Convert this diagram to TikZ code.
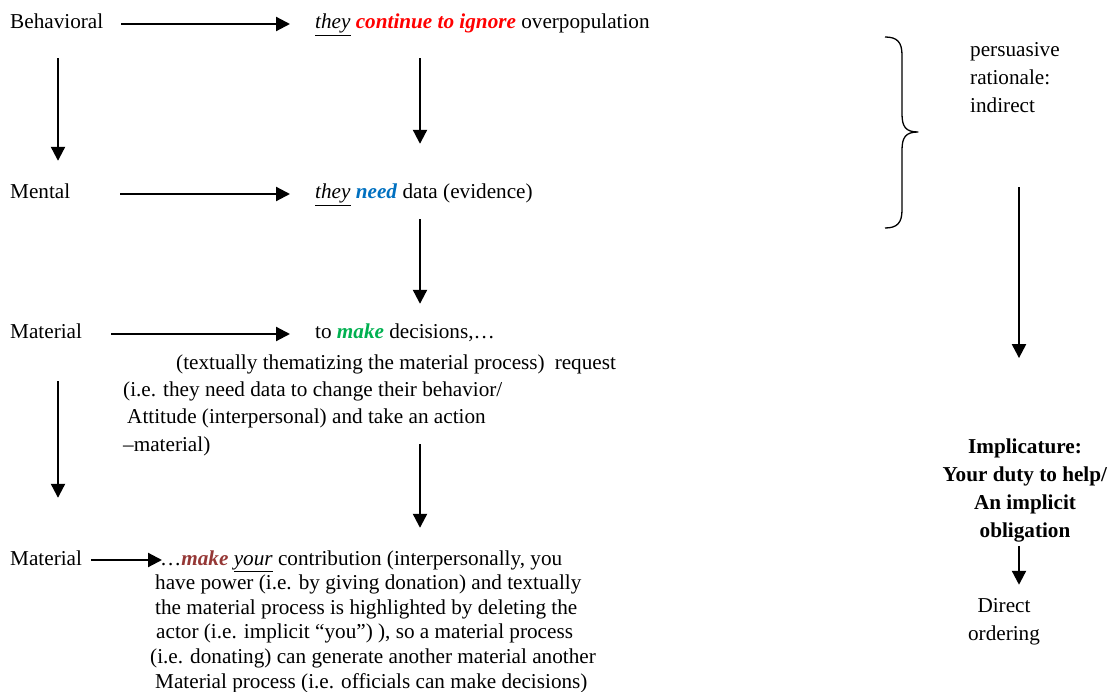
\documentclass[tikz,border=0pt]{standalone}
\usepackage{fontspec}
\setmainfont{Liberation Serif}
\usetikzlibrary{arrows.meta}
\definecolor{ignorered}{RGB}{255,0,0}
\definecolor{needblue}{RGB}{0,112,192}
\definecolor{makegreen}{RGB}{0,176,80}
\definecolor{makebrown}{RGB}{149,55,53}

\begin{document}
\begin{tikzpicture}[x=1pt, y=-1pt, line join=round,
  font=\fontsize{21.2}{24.6}\selectfont,
  arr/.style={line width=2.2pt, -{Triangle[length=14pt,width=14pt]}},
  txt/.style={anchor=base west, inner sep=0pt, text height=15pt, text depth=5pt},
  blk/.style={anchor=base west, inner sep=0pt, align=left},
  wide/.style={font=\fontsize{21.2}{28}\selectfont}]
\useasboundingbox (0,0) rectangle (1108,692);
\def\colL{58}
\def\colM{420}
\def\colR{1019}
\coordinate (cL) at (\colL,0);
\coordinate (cM) at (\colM,0);
\coordinate (cR) at (\colR,0);
\node[txt] (b1) at (10,29) {Behavioral};
\node[txt] (t1) at (315,29) {\underline{\textit{they}} \textcolor{ignorered}{\textbf{\textit{continue to ignore}}} overpopulation};
\node[txt] (m1) at (10,199) {Mental};
\node[txt] (t2) at (315,199) {\underline{\textit{they}} \textcolor{needblue}{\textbf{\textit{need}}} data (evidence)};
\node[txt] (ma1) at (10,339) {Material};
\node[txt] (t3) at (315,339) {to \textcolor{makegreen}{\textbf{\textit{make}}} decisions,…};
\node[blk, font=\fontsize{21.2}{27.3}\selectfont] (ex1) at (123,451) {\hspace{53pt}(textually thematizing the material process)\hspace{10pt}request\\(i.e. they need data to change their behavior/\\\hspace{4pt}Attitude (interpersonal) and take an action\\–material)};
\node[txt] (ma2) at (10,565) {Material};
\node[blk] (cb) at (150,688) {\hspace{10pt}…\textcolor{makebrown}{\textbf{\textit{make}}} \underline{\textit{your}} contribution (interpersonally, you\\\hspace{5pt}have power (i.e. by giving donation) and textually\\\hspace{5pt}the material process is highlighted by deleting the\\\hspace{6pt}actor (i.e. implicit “you”) ), so a material process\\(i.e. donating) can generate another material another\\\hspace{5pt}Material process (i.e. officials can make decisions)};
\node[blk, wide] (pr) at (970,113) {persuasive\\rationale:\\indirect};
\node[wide, anchor=base, inner sep=0pt, align=center] (imp) at (1025,537) {\textbf{Implicature:}\\\textbf{Your duty to help/}\\\textbf{An implicit}\\\textbf{obligation}};
\node[wide, anchor=base, inner sep=0pt, align=center] (dir) at (1004,640) {Direct\\ordering};
\draw[arr, shorten <=18pt, shorten >=25pt] (b1.east) -- (t1.west);
\draw[arr, shorten <=50pt, shorten >=25pt] (m1.east) -- (t2.west);
\draw[arr, shorten <=29pt, shorten >=25pt] (ma1.east) -- (t3.west);
\draw[arr, shorten <=9pt, shorten >=-12pt] (ma2.east) -- (ma2.east -| cb.west);
\draw[arr, shorten <=24pt, shorten >=23pt] (b1.south -| cL) -- (m1.north -| cL);
\draw[arr, shorten <=37pt, shorten >=52pt] (ma1.south -| cL) -- (ma2.north -| cL);
\draw[arr, shorten <=24pt, shorten >=40pt] (t1.south -| cM) -- (t2.north -| cM);
\draw[arr, shorten <=15pt, shorten >=20pt] (t2.south -| cM) -- (t3.north -| cM);
\draw[arr, shorten <=100pt, shorten >=22pt] (t3.south -| cM) -- (ma2.north -| cM);
\draw[arr, shorten <=74pt, shorten >=80pt] (pr.south -| cR) -- (imp.north -| cR);
\draw[arr, shorten <=4pt, shorten >=13pt] (imp.south -| cR) -- (dir.north -| cR);
\draw[line width=1.3pt] (885,37) .. controls (897,37) and (902,42) .. (902,55) -- (902,114)
  .. controls (902,127) and (906,132) .. (918,132)
  .. controls (906,132) and (902,137) .. (902,150) -- (902,210)
  .. controls (902,223) and (897,228) .. (885,228);
\end{tikzpicture}
\end{document}
